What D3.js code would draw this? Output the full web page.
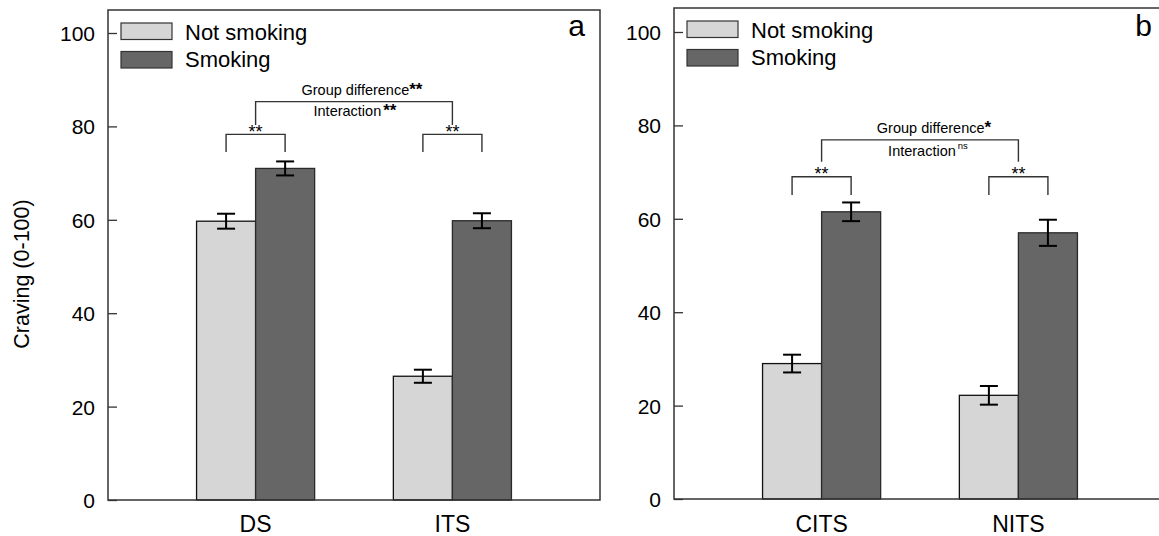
<!DOCTYPE html>
<html>
<head>
<meta charset="utf-8">
<script src="https://cdn.jsdelivr.net/npm/d3@7"></script>
<style>
  body { margin: 0; background: #fff; overflow: hidden; }
  svg { display: block; }
  text { font-family: "Liberation Sans", Arial, sans-serif; fill: #000; }
  .frame { fill: none; stroke: #333; stroke-width: 1.5; }
  .tick line { stroke: #333; stroke-width: 1.3; }
  .tick text { font-size: 21px; }
  .bracket { fill: none; stroke: #333; stroke-width: 1.4; }
  .err { stroke: #000; stroke-width: 2; }
</style>
</head>
<body>
<div id="chart"></div>
<script>
// panel a
var catsA = ["DS", "ITS"];
var notSmokingA = [59.7, 26.5];
var notSmokingErrA = [1.6, 1.4];
var smokingA = [71.0, 59.8];
var smokingErrA = [1.5, 1.6];

// panel b
var catsB = ["CITS", "NITS"];
var notSmokingB = [29.0, 22.2];
var notSmokingErrB = [1.9, 2.0];
var smokingB = [61.5, 57.0];
var smokingErrB = [2.0, 2.8];

var yTicks = [0, 20, 40, 60, 80, 100];
var seriesNames = ["Not smoking", "Smoking"];
var seriesColors = ["#d6d6d6", "#666666"];
var seriesStroke = ["#111", "#2a2a2a"];

var width = 1159, height = 536;

var svg = d3.select("#chart").append("svg")
  .attr("width", width)
  .attr("height", height);

svg.append("rect").attr("width", width).attr("height", height).attr("fill", "#fff");

function drawPanel(p) {
  var g = svg.append("g");

  var y = d3.scaleLinear().domain([0, 100]).range([p.yZero, p.y100]);
  var x = d3.scaleBand().domain(p.cats).range([p.left, p.right])
    .paddingInner(0.4).paddingOuter(0.45);
  var xs = d3.scaleBand().domain([0, 1]).range([0, x.bandwidth()]);

  var vals = [p.ns, p.sm], errs = [p.nsErr, p.smErr];
  var rows = [];
  p.cats.forEach(function(c, i) {
    [0, 1].forEach(function(s) {
      rows.push({cat: c, s: s, v: vals[s][i], e: errs[s][i]});
    });
  });

  // axis, ticks point inward
  g.append("g")
    .attr("transform", "translate(" + p.left + ",0)")
    .call(d3.axisLeft(y).tickValues(yTicks).tickSizeInner(-9).tickSizeOuter(0).tickPadding(13))
    .call(function(a) { a.select(".domain").remove(); })
    .selectAll("text").attr("dy", "0.36em");

  // bars
  g.selectAll("rect.bar").data(rows).enter().append("rect")
    .attr("class", "bar")
    .attr("x", function(d) { return x(d.cat) + xs(d.s); })
    .attr("y", function(d) { return y(d.v); })
    .attr("width", xs.bandwidth())
    .attr("height", function(d) { return y(0) - y(d.v); })
    .attr("fill", function(d) { return seriesColors[d.s]; })
    .attr("stroke", function(d) { return seriesStroke[d.s]; })
    .attr("stroke-width", 1.3);

  // error bars
  var eb = g.selectAll("g.eb").data(rows).enter().append("g").attr("class", "eb");
  function cx(d) { return x(d.cat) + xs(d.s) + xs.bandwidth() / 2; }
  eb.append("line").attr("class", "err")
    .attr("x1", cx).attr("x2", cx)
    .attr("y1", function(d) { return y(d.v + d.e); })
    .attr("y2", function(d) { return y(d.v - d.e); });
  [1, -1].forEach(function(k) {
    eb.append("line").attr("class", "err")
      .attr("x1", function(d) { return cx(d) - 9; })
      .attr("x2", function(d) { return cx(d) + 9; })
      .attr("y1", function(d) { return y(d.v + k * d.e); })
      .attr("y2", function(d) { return y(d.v + k * d.e); });
  });

  // frame
  g.append("rect").attr("class", "frame")
    .attr("x", p.left).attr("y", p.top)
    .attr("width", p.right - p.left).attr("height", p.yZero - p.top);

  // pair brackets
  p.cats.forEach(function(c) {
    var xa = x(c) + xs.bandwidth() / 2, xb = x(c) + xs.bandwidth() * 1.5;
    g.append("path").attr("class", "bracket")
      .attr("d", "M" + xa + "," + y(p.pairLeg) + "V" + y(p.pairTop) + "H" + xb + "V" + y(p.pairLeg));
    g.append("text").attr("x", (xa + xb) / 2).attr("y", y(p.pairTop) + 3.5)
      .attr("text-anchor", "middle").style("font-size", "18px").text("**");
  });

  // group bracket
  var ga = x(p.cats[0]) + x.bandwidth() / 2, gb = x(p.cats[1]) + x.bandwidth() / 2;
  g.append("path").attr("class", "bracket")
    .attr("d", "M" + ga + "," + y(p.grpLeg) + "V" + y(p.grpTop) + "H" + gb + "V" + y(p.grpLeg));
  var t1 = g.append("text").attr("x", (ga + gb) / 2 + p.t1dx).attr("y", y(p.grpTop) - 6.5)
    .attr("text-anchor", "middle").style("font-size", "14.5px");
  t1.append("tspan").text("Group difference");
  t1.append("tspan").style("font-size", "17px").style("font-weight", "bold").text(p.grpSig);
  var t2 = g.append("text").attr("x", (ga + gb) / 2 + p.t2dx).attr("y", y(p.grpTop) + p.t2dy)
    .attr("text-anchor", "middle").style("font-size", "14.5px");
  t2.append("tspan").text("Interaction");
  if (p.intSig === "ns") {
    t2.append("tspan").attr("dx", 2).attr("dy", -7).style("font-size", "9.5px").text("ns");
  } else {
    t2.append("tspan").attr("dx", 2).style("font-size", "17px").style("font-weight", "bold").text(p.intSig);
  }

  // x labels
  g.selectAll("text.xl").data(p.cats).enter().append("text")
    .attr("class", "xl")
    .attr("x", function(d) { return x(d) + x.bandwidth() / 2; })
    .attr("y", 532)
    .attr("text-anchor", "middle")
    .style("font-size", "23px")
    .text(function(d) { return d; });

  // legend
  seriesNames.forEach(function(n, i) {
    g.append("rect")
      .attr("x", p.left + 13).attr("y", p.top + 13 + i * 28.5)
      .attr("width", 51).attr("height", 16.5)
      .attr("fill", seriesColors[i]).attr("stroke", "#333").attr("stroke-width", 1.2);
    g.append("text")
      .attr("x", p.left + 77).attr("y", p.top + 29.5 + i * 27.5)
      .style("font-size", "22px").text(n);
  });

  // panel letter
  g.append("text").attr("x", p.letterX).attr("y", 36)
    .attr("text-anchor", "end").style("font-size", "30px").text(p.letter);
}

drawPanel({
  cats: catsA, ns: notSmokingA, nsErr: notSmokingErrA, sm: smokingA, smErr: smokingErrA,
  left: 108, right: 600, top: 10, yZero: 500, y100: 33,
  pairTop: 78.3, pairLeg: 74.5, grpTop: 85.3, grpLeg: 80.3,
  grpSig: "**", intSig: "**", t1dx: 8, t2dx: 1, t2dy: 14,
  letter: "a", letterX: 585
});

drawPanel({
  cats: catsB, ns: notSmokingB, nsErr: notSmokingErrB, sm: smokingB, smErr: smokingErrB,
  left: 674, right: 1166, top: 8, yZero: 499, y100: 32,
  pairTop: 69.0, pairLeg: 65.1, grpTop: 76.9, grpLeg: 72.2,
  grpSig: "*", intSig: "ns", t1dx: 14, t2dx: 8, t2dy: 16.5,
  letter: "b", letterX: 1152
});

// y axis title
svg.append("text")
  .attr("transform", "translate(29,274) rotate(-90)")
  .attr("text-anchor", "middle")
  .style("font-size", "21.5px")
  .text("Craving (0-100)");
</script>
</body>
</html>
